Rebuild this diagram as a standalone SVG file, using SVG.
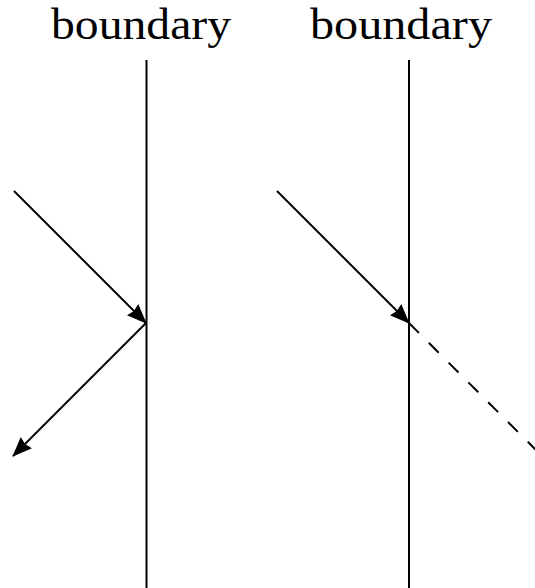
<svg xmlns="http://www.w3.org/2000/svg" width="535" height="588" viewBox="0 0 535 588">
<style>
.lbl{font-family:"Liberation Serif","DejaVu Serif",serif;font-size:44px;fill:#000;text-anchor:middle}
.ln{stroke:#000;stroke-width:2;fill:none}
</style>
<defs>
<marker id="ah" markerUnits="userSpaceOnUse" markerWidth="22" markerHeight="18" refX="19" refY="8.5" orient="auto">
<path d="M0,0.5 L20,8.5 L0,16.5 L2,8.5 Z" fill="#000"/>
</marker>
</defs>
<rect width="535" height="588" fill="#fff"/>
<g id="boundary-left">
<line class="ln" x1="146.5" y1="60" x2="146.5" y2="588"/>
<text class="lbl" x="141" y="39" textLength="180" lengthAdjust="spacingAndGlyphs">boundary</text>
</g>
<g id="boundary-right">
<line class="ln" x1="409" y1="60" x2="409" y2="588"/>
<text class="lbl" x="401" y="39" textLength="182" lengthAdjust="spacingAndGlyphs">boundary</text>
</g>
<g id="connectors">
<line class="ln" x1="14" y1="191" x2="146" y2="323" marker-end="url(#ah)"/>
<line class="ln" x1="146" y1="323" x2="13" y2="456" marker-end="url(#ah)"/>
<line class="ln" x1="277" y1="191" x2="409" y2="323" marker-end="url(#ah)"/>
<line class="ln" x1="409" y1="323" x2="540" y2="454" stroke-dasharray="14 14"/>
</g>
</svg>
